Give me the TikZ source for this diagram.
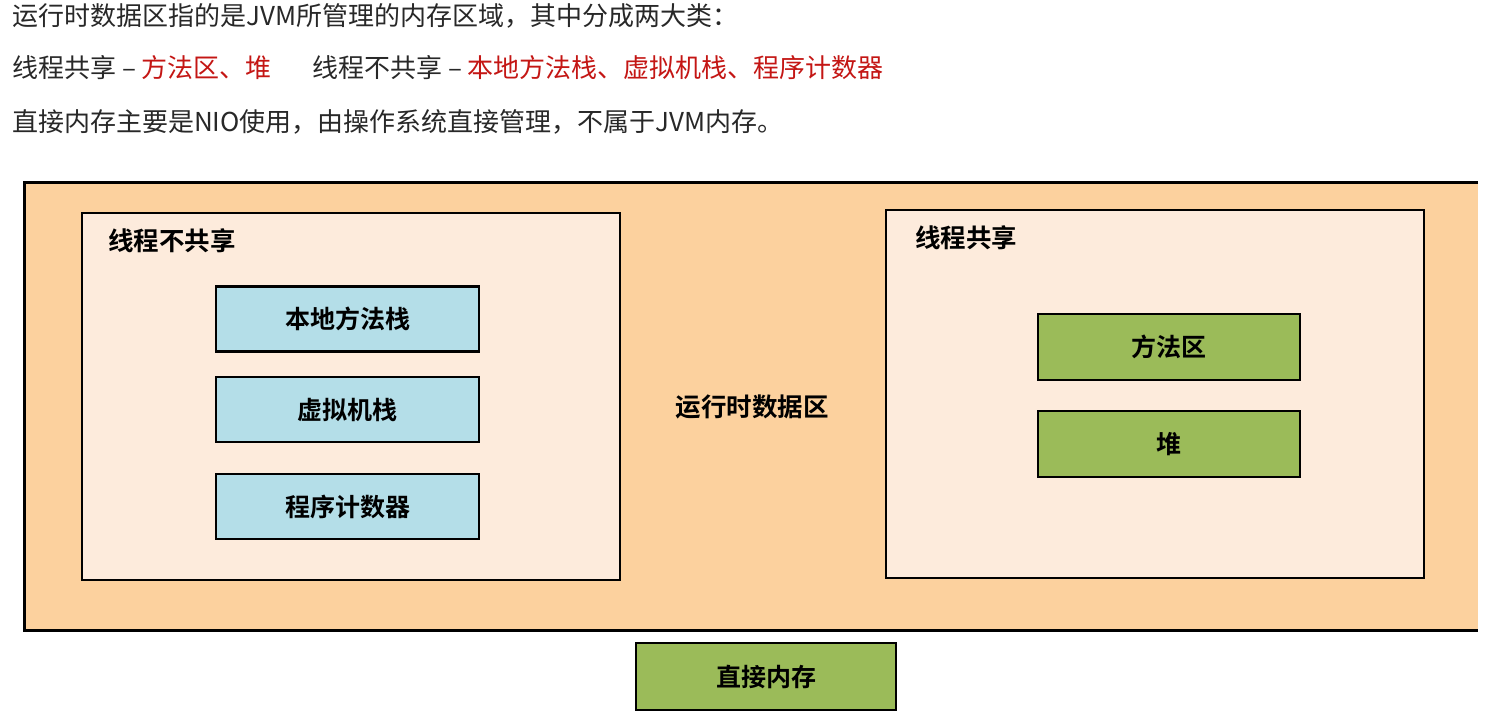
\documentclass[tikz,border=0pt]{standalone}
\usepackage{fontspec}
\setmainfont{Noto Sans CJK SC}[BoldFont={Noto Sans CJK SC Bold}]
\definecolor{outerfill}{RGB}{252,209,158}
\definecolor{innerfill}{RGB}{253,235,220}
\definecolor{bluefill}{RGB}{180,222,232}
\definecolor{greenfill}{RGB}{155,187,89}
\definecolor{redtext}{RGB}{196,22,20}
\definecolor{graytext}{RGB}{40,40,40}
\begin{document}
\begin{tikzpicture}[x=1pt,y=-1pt,
  every node/.style={font=\fontsize{25}{29}\selectfont},
  frame/.style={draw=black, line width=2.8pt, rectangle, inner sep=0pt},
  panel/.style={frame, fill=innerfill, minimum width=538pt},
  bluebox/.style={frame, fill=bluefill, minimum width=263pt, minimum height=65pt, font=\fontsize{25}{29}\selectfont\bfseries},
  greenbox/.style={frame, fill=greenfill, minimum width=262pt, minimum height=66pt, font=\fontsize{25}{29}\selectfont\bfseries},
  caption/.style={inner sep=0pt, anchor=west, text=graytext, font=\fontsize{26}{30}\selectfont},
  label/.style={inner sep=0pt, font=\fontsize{25.5}{29}\selectfont\bfseries}
]
\useasboundingbox[fill=white] (0,0) rectangle (1488,713);

% intro text
\node[caption] (t1) at (12,16) {运行时数据区指的是JVM所管理的内存区域，其中分成两大类：};
\node[caption] (t2a) at (12,68) {线程共享 – \textcolor{redtext}{方法区、堆}};
\node[caption] (t2b) at (312,68) {线程不共享 – \textcolor{redtext}{本地方法栈、虚拟机栈、程序计数器}};
\node[caption] (t3) at (12,122) {直接内存主要是NIO使用，由操作系统直接管理，不属于JVM内存。};

% outer runtime data area (right side cropped)
\node[fill=outerfill, minimum width=1453pt, minimum height=447pt, inner sep=0pt] (outer) at (751.5,406.5) {};
\draw[line width=2.8pt] (outer.north east) -- (outer.north west) -- (outer.south west) -- (outer.south east);

% left panel
\node[panel, minimum height=367pt] (left) at (351,396.5) {};
\node[label, anchor=west] (leftlbl) at (108,241) {线程不共享};
\node[bluebox] (b1) at (347.5,319) {本地方法栈};
\node[bluebox] (b2) at (347.5,409.5) {虚拟机栈};
\node[bluebox] (b3) at (347.5,506.5) {程序计数器};

% middle label
\node[label] (mid) at (752,407) {运行时数据区};

% right panel
\node[panel, minimum height=368pt] (right) at (1155,394) {};
\node[label, anchor=west] (rightlbl) at (915,238) {线程共享};
\node[greenbox] (g1) at (1169,347) {方法区};
\node[greenbox] (g2) at (1169,444) {堆};

% direct memory
\node[greenbox, minimum width=260pt, minimum height=67pt] (direct) at (766,676.5) {直接内存};
\end{tikzpicture}
\end{document}
